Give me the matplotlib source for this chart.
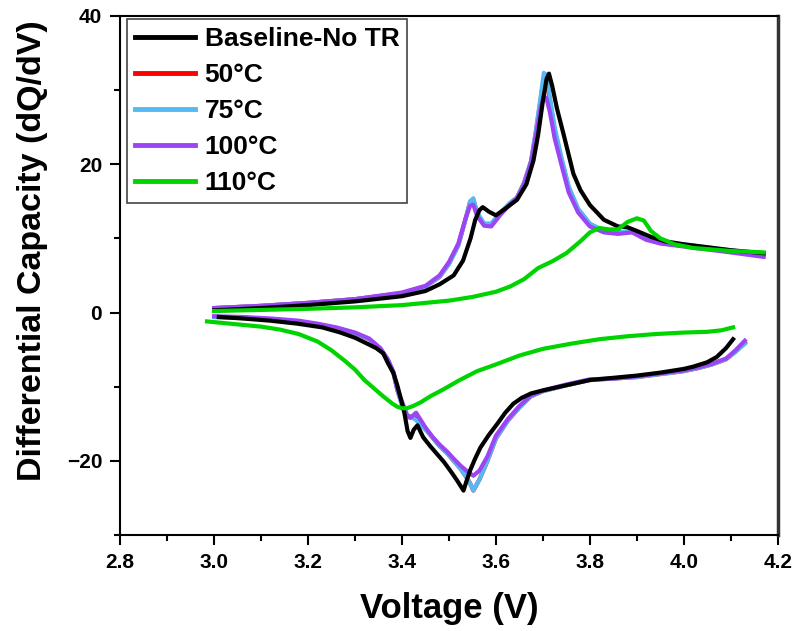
import matplotlib.pyplot as plt
from matplotlib.ticker import MultipleLocator

# Baseline (no thermal runaway) - charge and discharge branches
base_chg_v = [3.00, 3.10, 3.20, 3.30, 3.40, 3.45, 3.48, 3.51, 3.53, 3.546, 3.556, 3.565, 3.572, 3.585,
              3.60, 3.62, 3.645, 3.665, 3.68, 3.69, 3.70, 3.708, 3.713, 3.72, 3.73, 3.745, 3.765, 3.78,
              3.80, 3.83, 3.86, 3.88, 3.90, 3.93, 3.96, 4.00, 4.05, 4.10, 4.17]
base_chg_q = [0.3, 0.6, 1.0, 1.5, 2.2, 2.9, 3.8, 5.0, 7.0, 10.0, 12.5, 13.8, 14.2, 13.6,
              13.1, 14.0, 15.2, 17.3, 20.5, 24.0, 28.5, 31.5, 32.2, 30.5, 27.5, 23.8, 18.7, 16.5,
              14.5, 12.5, 11.6, 11.5, 11.0, 10.2, 9.6, 9.2, 8.8, 8.4, 8.0]
base_dis_v = [4.105, 4.09, 4.07, 4.05, 4.02, 4.00, 3.95, 3.90, 3.85, 3.80, 3.75, 3.70, 3.675, 3.655,
              3.637, 3.62, 3.603, 3.585, 3.567, 3.555, 3.545, 3.537, 3.531, 3.525, 3.518, 3.505,
              3.49, 3.475, 3.46, 3.445, 3.433, 3.425, 3.418, 3.412, 3.405, 3.397, 3.39, 3.382,
              3.37, 3.36, 3.345, 3.326, 3.30, 3.269, 3.23, 3.177, 3.12, 3.06, 3.01]
base_dis_q = [-3.6, -4.8, -6.0, -6.7, -7.3, -7.6, -8.1, -8.5, -8.8, -9.1, -9.8, -10.5, -10.9, -11.5,
              -12.3, -13.5, -15.0, -16.5, -18.2, -19.8, -21.3, -22.8, -24.0, -23.4, -22.7, -21.5,
              -20.2, -19.1, -18.0, -16.8, -15.2, -15.8, -16.9, -16.0, -13.5, -11.5, -9.8, -8.2,
              -6.8, -5.5, -4.8, -4.2, -3.4, -2.7, -2.0, -1.5, -1.1, -0.8, -0.6]

# 50 C, 75 C and 100 C share the same voltage grid
hot_chg_v = [3.00, 3.10, 3.20, 3.30, 3.40, 3.45, 3.48, 3.50, 3.52, 3.535, 3.545, 3.552, 3.56, 3.575,
             3.59, 3.61, 3.63, 3.645, 3.66, 3.675, 3.685, 3.695, 3.702, 3.708, 3.715, 3.725, 3.74,
             3.755, 3.775, 3.80, 3.83, 3.86, 3.89, 3.92, 3.95, 4.00, 4.05, 4.10, 4.17]
t50_chg_q = [0.6, 0.9, 1.3, 1.8, 2.6, 3.5, 4.8, 6.6, 9.1, 12.5, 14.9, 15.2, 13.4, 11.9,
             11.9, 13.4, 14.7, 15.5, 17.5, 20.4, 24.3, 28.6, 31.5, 31.3, 28.6, 24.6, 20.5,
             16.8, 13.9, 11.9, 10.9, 10.8, 10.9, 10.0, 9.5, 9.1, 8.7, 8.3, 7.7]
t75_chg_q = [0.6, 0.9, 1.3, 1.8, 2.6, 3.5, 4.8, 6.5, 9.0, 12.5, 15.0, 15.4, 13.5, 12.0,
             12.0, 13.5, 14.8, 15.5, 17.5, 20.5, 24.5, 29.0, 32.3, 32.0, 29.0, 25.0, 20.8,
             17.0, 14.0, 12.0, 11.0, 10.8, 11.0, 10.0, 9.5, 9.2, 8.8, 8.4, 7.8]
t100_chg_q = [0.6, 0.9, 1.3, 1.8, 2.7, 3.6, 5.0, 6.8, 9.3, 12.6, 14.4, 14.5, 13.0, 11.7,
              11.6, 13.2, 14.6, 15.4, 17.3, 20.3, 23.8, 27.5, 29.2, 28.8, 27.0, 23.5, 19.8,
              16.2, 13.5, 11.6, 10.8, 10.6, 10.8, 9.8, 9.3, 8.9, 8.5, 8.1, 7.5]

hot_dis_v = [4.13, 4.11, 4.09, 4.06, 4.03, 4.00, 3.95, 3.90, 3.85, 3.80, 3.75, 3.70, 3.674, 3.65,
             3.625, 3.60, 3.582, 3.565, 3.552, 3.545, 3.535, 3.524, 3.51, 3.497, 3.48, 3.467,
             3.45, 3.43, 3.418, 3.411, 3.40, 3.39, 3.382, 3.37, 3.354, 3.33, 3.30, 3.26, 3.22,
             3.18, 3.12, 3.06, 3.00]
t50_dis_q = [-4.1, -5.3, -6.3, -7.0, -7.5, -7.9, -8.3, -8.7, -8.9, -9.1, -9.8, -10.6, -11.3, -12.8,
             -14.6, -17.0, -20.0, -22.5, -24.0, -23.0, -22.0, -21.0, -20.0, -19.0, -18.0, -17.0,
             -15.7, -14.3, -14.0, -14.1, -12.4, -10.4, -8.2, -6.5, -4.9, -3.6, -2.8, -2.1, -1.6,
             -1.2, -0.9, -0.7, -0.6]
t75_dis_q = [-4.2, -5.3, -6.3, -7.0, -7.5, -7.9, -8.3, -8.7, -8.9, -9.1, -9.8, -10.6, -11.3, -12.8,
             -14.6, -17.0, -20.0, -22.5, -24.0, -23.0, -22.0, -21.0, -20.0, -19.0, -18.0, -17.0,
             -15.8, -14.5, -14.0, -14.2, -12.5, -10.5, -8.2, -6.5, -4.9, -3.6, -2.8, -2.1, -1.6,
             -1.2, -0.9, -0.7, -0.6]
t100_dis_q = [-3.8, -5.1, -6.2, -6.9, -7.4, -7.8, -8.2, -8.6, -8.9, -9.0, -9.7, -10.5, -11.2, -12.6,
              -14.4, -16.6, -19.4, -21.3, -22.0, -21.7, -21.2, -20.6, -19.7, -18.8, -17.8, -16.9,
              -15.5, -13.5, -14.2, -13.8, -12.0, -10.3, -8.0, -6.3, -4.8, -3.5, -2.7, -2.0, -1.5,
              -1.1, -0.8, -0.6, -0.5]

# 110 C
t110_chg_v = [3.00, 3.10, 3.20, 3.30, 3.40, 3.45, 3.50, 3.55, 3.60, 3.63, 3.66, 3.69, 3.72, 3.75,
              3.78, 3.80, 3.82, 3.84, 3.86, 3.88, 3.90, 3.915, 3.93, 3.95, 3.98, 4.02, 4.06, 4.10, 4.17]
t110_chg_q = [0.2, 0.35, 0.5, 0.7, 1.0, 1.3, 1.6, 2.1, 2.8, 3.5, 4.5, 6.0, 6.9, 8.0,
              9.6, 10.8, 11.4, 11.2, 11.2, 12.2, 12.7, 12.4, 11.0, 10.0, 9.2, 8.7, 8.5, 8.3, 8.1]
t110_dis_v = [4.105, 4.08, 4.05, 4.00, 3.94, 3.88, 3.82, 3.76, 3.70, 3.65, 3.60, 3.56, 3.52, 3.49,
              3.46, 3.44, 3.424, 3.41, 3.40, 3.39, 3.38, 3.36, 3.34, 3.32, 3.30, 3.28, 3.25, 3.22,
              3.18, 3.14, 3.10, 3.05, 2.985]
t110_dis_q = [-2.0, -2.4, -2.6, -2.7, -2.9, -3.2, -3.6, -4.2, -4.9, -5.8, -7.0, -7.9, -9.2, -10.3,
              -11.3, -12.1, -12.6, -12.9, -12.9, -12.7, -12.3, -11.3, -10.2, -9.1, -7.7, -6.6, -5.1,
              -3.9, -2.9, -2.3, -1.9, -1.6, -1.2]

labels = ["Baseline-No TR", "50°C", "75°C", "100°C", "110°C"]
colors = ["#000000", "#ff0000", "#55b9f3", "#9b45f5", "#00d400"]

plt.rcParams["font.family"] = ["Liberation Sans", "DejaVu Sans"]
plt.rcParams["font.weight"] = "bold"

fig = plt.figure(figsize=(7.96, 6.31), dpi=100)
ax = fig.add_axes([0.151, 0.152, 0.826, 0.823])

series = [
    (base_chg_v, base_chg_q, base_dis_v, base_dis_q, 4),
    (hot_chg_v, t50_chg_q, hot_dis_v, t50_dis_q, 1),
    (hot_chg_v, t75_chg_q, hot_dis_v, t75_dis_q, 2),
    (hot_chg_v, t100_chg_q, hot_dis_v, t100_dis_q, 3),
    (t110_chg_v, t110_chg_q, t110_dis_v, t110_dis_q, 5),
]
for (cv, cq, dv, dq, z), lab, col in zip(series, labels, colors):
    ax.plot(cv, cq, color=col, lw=3, label=lab, zorder=z, solid_joinstyle="round")
    ax.plot(dv, dq, color=col, lw=3, zorder=z, solid_joinstyle="round")

ax.set_xlim(2.8, 4.2)
ax.set_ylim(-30, 40)
ax.xaxis.set_major_locator(MultipleLocator(0.2))
ax.xaxis.set_minor_locator(MultipleLocator(0.1))
ax.yaxis.set_major_locator(MultipleLocator(20))
ax.yaxis.set_minor_locator(MultipleLocator(10))
ax.xaxis.set_major_formatter(lambda v, p: f"{v:.1f}")

ax.tick_params(which="both", direction="out", width=1.5, top=False, right=False)
ax.tick_params(which="major", length=7, labelsize=15, pad=6)
ax.tick_params(which="minor", length=4)
for lab in ax.get_xticklabels() + ax.get_yticklabels():
    lab.set_fontweight("bold")

for side in ["left", "bottom", "top"]:
    ax.spines[side].set_linewidth(1.5)
ax.spines["right"].set_linewidth(2.5)
ax.spines["right"].set_color("#333333")

ax.set_xlabel("Voltage (V)", fontsize=25, fontweight="bold", labelpad=14)
ax.set_ylabel("Differential Capacity (dQ/dV)", fontsize=24.5, fontweight="bold")
ax.yaxis.set_label_coords(-0.11, 0.547)

leg = ax.legend(loc="upper left", bbox_to_anchor=(0.01, 0.993), fontsize=19, frameon=True,
                fancybox=False, edgecolor="#444444", framealpha=1, handlelength=2.3,
                handletextpad=0.35, labelspacing=0.45, borderpad=0.3, borderaxespad=0)
leg.get_frame().set_linewidth(1.2)
for h in leg.get_lines():
    h.set_linewidth(3.5)
for t in leg.get_texts():
    t.set_fontweight("bold")

fig.savefig("out.png", dpi=100)
